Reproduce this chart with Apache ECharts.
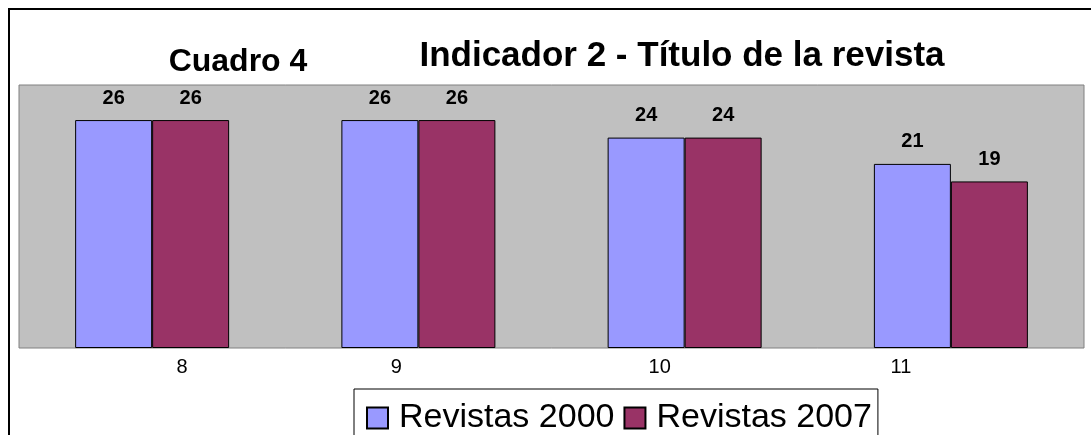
<!DOCTYPE html>
<html>
<head>
<meta charset="utf-8">
<script src="https://cdn.jsdelivr.net/npm/echarts@6/dist/echarts.min.js"></script>
<style>
    html, body { margin:0; padding:0; background:#fff; }
    #myChart { width:1091px; height:435px; }
</style>
</head>
<body>
<div id="myChart"></div>
<script>
// datos del gráfico
var categories = ['8', '9', '10', '11'];
var revistas2000 = [26, 26, 24, 21];
var revistas2007 = [26, 26, 24, 19];
var seriesNames = ['Revistas 2000', 'Revistas 2007'];

var fontFamily = "'Liberation Sans', Arial, sans-serif";

var myChart = echarts.init(document.getElementById('myChart'));
myChart.setOption({
    backgroundColor: '#fff',
    animation: false,
    graphic: [
        {
            // marco exterior
            type: 'rect',
            shape: { x: 9, y: 9, width: 1200, height: 600 },
            style: { fill: 'none', stroke: '#000', lineWidth: 2 },
            z: -1
        },
        {
            type: 'text',
            x: 238, y: 62,
            style: {
                text: 'Cuadro 4', fontSize: 32, fontWeight: 'bold', fontFamily: fontFamily,
                fill: '#000', textAlign: 'center', textVerticalAlign: 'middle'
            }
        },
        {
            type: 'text',
            x: 682, y: 56,
            style: {
                text: 'Indicador 2 - Título de la revista', fontSize: 35, fontWeight: 'bold', fontFamily: fontFamily,
                fill: '#000', textAlign: 'center', textVerticalAlign: 'middle'
            }
        }
    ],
    grid: {
        left: 19, top: 85, width: 1065, height: 263,
        show: true, backgroundColor: '#c0c0c0', borderColor: '#808080', borderWidth: 1
    },
    legend: {
        data: seriesNames,
        left: 354, top: 389,
        orient: 'horizontal',
        icon: 'rect',
        itemWidth: 21, itemHeight: 21, itemGap: 9,
        padding: [12, 6, 20, 12],
        borderColor: '#000', borderWidth: 1,
        textStyle: { fontSize: 34, color: '#000', fontFamily: fontFamily, padding: [0, 0, 0, 6] }
    },
    xAxis: {
        type: 'category',
        data: categories,
        axisLine: { show: false },
        axisTick: { show: false },
        axisLabel: {
            margin: 9,
            fontSize: 20,
            color: '#000',
            fontFamily: fontFamily,
            formatter: function (v, i) { return '{c' + i + '|' + v + '}'; },
            // etiquetas desplazadas como en el original
            rich: {
                c0: { fontSize: 20, fontFamily: fontFamily, padding: [0, 0, 0, 60] },
                c1: { fontSize: 20, fontFamily: fontFamily, padding: [0, 44, 0, 0] },
                c2: { fontSize: 20, fontFamily: fontFamily, padding: [0, 50, 0, 0] },
                c3: { fontSize: 20, fontFamily: fontFamily, padding: [0, 100, 0, 0] }
            }
        }
    },
    yAxis: {
        type: 'value',
        min: 0, max: 30,
        show: false,
        splitLine: { show: false }
    },
    series: [
        {
            name: seriesNames[0],
            type: 'bar',
            data: revistas2000,
            barWidth: 77,
            barGap: '0%',
            itemStyle: { color: '#9999ff', borderColor: '#000', borderWidth: 1 },
            label: {
                show: true, position: 'top', distance: 12,
                fontSize: 20, fontWeight: 'bold', color: '#000', fontFamily: fontFamily
            }
        },
        {
            name: seriesNames[1],
            type: 'bar',
            data: revistas2007,
            barWidth: 77,
            barGap: '0%',
            itemStyle: { color: '#993366', borderColor: '#000', borderWidth: 1 },
            label: {
                show: true, position: 'top', distance: 12,
                fontSize: 20, fontWeight: 'bold', color: '#000', fontFamily: fontFamily
            }
        }
    ]
});
</script>
</body>
</html>
